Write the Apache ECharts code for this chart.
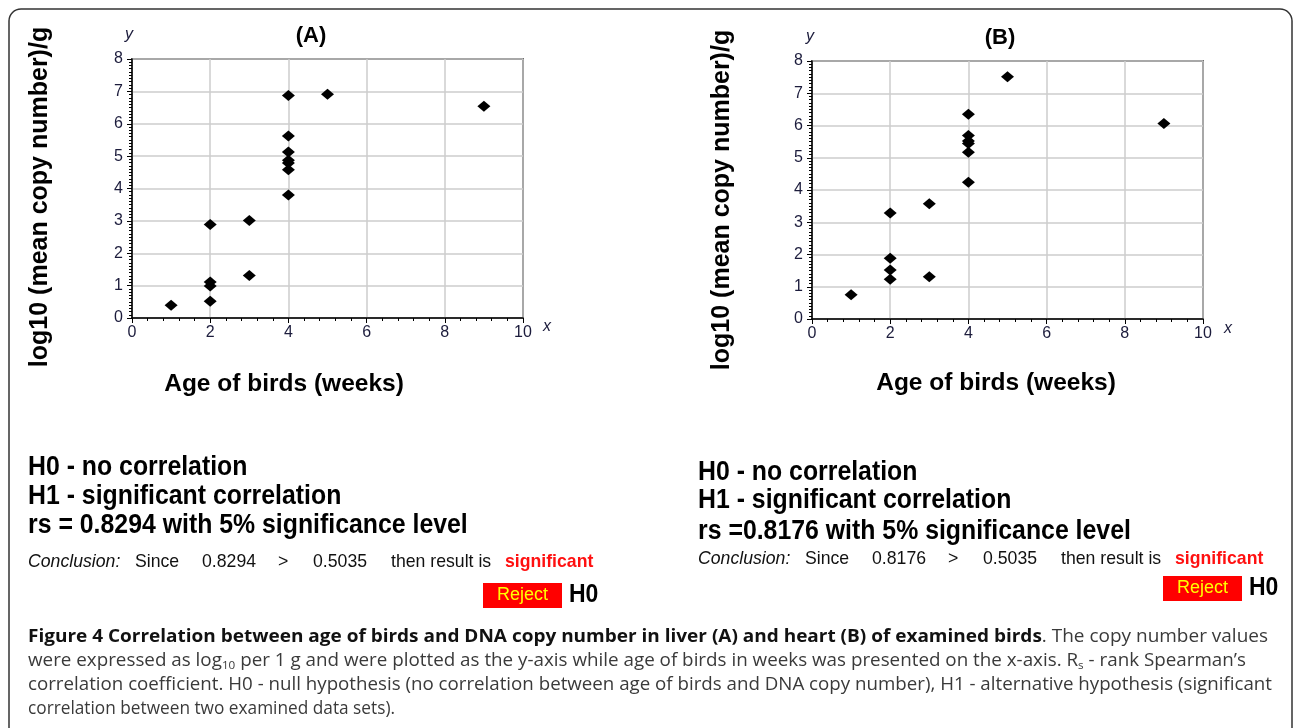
<!DOCTYPE html>
<html><head><meta charset="utf-8">
<script src="https://cdn.jsdelivr.net/npm/echarts@6/dist/echarts.min.js"></script>
<style>html,body{margin:0;padding:0;background:#fff}#c{width:1295px;height:728px}</style>
</head><body><div id="c"></div>
<script>
// ---- data ----
const ageA = [1, 2, 2, 2, 2, 3, 3, 4, 4, 4, 4, 4, 4, 4, 5, 9];
const copyA = [0.39, 0.52, 0.99, 1.11, 2.89, 1.31, 3.01, 3.80, 4.58, 4.79, 4.87, 5.13, 5.62, 6.87, 6.91, 6.54];
const ageB = [1, 2, 2, 2, 2, 3, 3, 4, 4, 4, 4, 4, 4, 5, 9];
const copyB = [0.75, 1.23, 1.52, 1.88, 3.29, 1.31, 3.57, 4.24, 5.17, 5.44, 5.52, 5.69, 6.35, 7.51, 6.06];
const xTicks = [0, 2, 4, 6, 8, 10];
const yTicks = [0, 1, 2, 3, 4, 5, 6, 7, 8];
const panelTitles = ['(A)', '(B)'];
const rsLabels = ['rs = 0.8294 with 5% significance level', 'rs =0.8176 with 5% significance level'];
const rsValues = ['0.8294', '0.8176'];
const criticalValue = '0.5035';
const yName = 'log10 (mean copy number)/g';
const xName = 'Age of birds (weeks)';

const FONT = '"Liberation Sans", Arial, sans-serif';
const TICKCOL = '#1c1c3c';

function xAx(gi) {
  return {
    gridIndex: gi, type: 'value',
    min: xTicks[0], max: xTicks[xTicks.length - 1], interval: xTicks[1] - xTicks[0],
    axisLine: {show: true, onZero: false, lineStyle: {color: '#000', width: 1.5}},
    axisTick: {show: true, length: 5, lineStyle: {color: '#000', width: 1}},
    minorTick: {show: true, splitNumber: 5, length: 3, lineStyle: {color: '#000', width: 1}},
    splitLine: {show: true, lineStyle: {color: '#cdcdcd', width: 1.5}},
    axisLabel: {color: TICKCOL, fontSize: 16, fontFamily: FONT, margin: 7}
  };
}
function yAx(gi) {
  return {
    gridIndex: gi, type: 'value',
    min: yTicks[0], max: yTicks[yTicks.length - 1], interval: yTicks[1] - yTicks[0],
    axisLine: {show: true, onZero: false, lineStyle: {color: '#000', width: 1.5}},
    axisTick: {show: true, length: 5, lineStyle: {color: '#000', width: 1}},
    minorTick: {show: true, splitNumber: 10, length: 3, lineStyle: {color: '#000', width: 1}},
    splitLine: {show: true, lineStyle: {color: '#cdcdcd', width: 1.5}},
    axisLabel: {color: TICKCOL, fontSize: 16, fontFamily: FONT, margin: 9}
  };
}

function T(x, y, text, o) {
  o = o || {};
  return {
    type: 'text', x: x, y: y, rotation: o.rot || 0, scaleX: o.sx || 1, z: 100,
    style: {
      text: text, fill: o.color || '#000',
      font: (o.style || 'normal') + ' ' + (o.weight || 'normal') + ' ' + (o.size || 16) + 'px ' + (o.family || FONT),
      align: o.align || 'left', verticalAlign: 'middle', rich: o.rich
    }
  };
}

const ctx = document.createElement('canvas').getContext('2d');
function mw(text, font) { ctx.font = font; return ctx.measureText(text).width; }

const CFAM = '"Open Sans", sans-serif';
const CFS = 18.5;
const cReg = CFS + 'px ' + CFAM, cBold = 'bold ' + CFS + 'px ' + CFAM, cSub = '11.5px ' + CFAM;

const cap1b = 'Figure 4 Correlation between age of birds and DNA copy number in liver (A) and heart (B) of examined birds';
const cap1r = '. The copy number values';
const cap2 = ['were expressed as log', '10', ' per 1 g and were plotted as the y-axis while age of birds in weeks was presented on the x-axis. R', 's', ' - rank Spearman\u2019s'];
const cap3 = 'correlation coefficient. H0 - null hypothesis (no correlation between age of birds and DNA copy number), H1 - alternative hypothesis (significant';
const cap4 = 'correlation between two examined data sets).';

const w1 = mw(cap1b, cBold) + mw(cap1r, cReg);
const w2 = mw(cap2[0], cReg) + mw(cap2[1], cSub) + mw(cap2[2], cReg) + mw(cap2[3], cSub) + mw(cap2[4], cReg);
const w3 = mw(cap3, cReg);
const w4 = mw(cap4, cReg);
const richC = {
  b: {font: cBold, fill: '#111', lineHeight: 22},
  r: {font: cReg, fill: '#3a3a3a', lineHeight: 22},
  s: {font: cSub, fill: '#3a3a3a', verticalAlign: 'bottom', lineHeight: 13}
};

const graphic = [
  {type: 'rect', shape: {x: 9, y: 9, width: 1283, height: 760, r: 12}, style: {fill: 'none', stroke: '#333', lineWidth: 1.5}, z: 1},
  // panel A
  T(311, 36, panelTitles[0], {weight: 'bold', size: 22, align: 'center'}),
  T(129, 35, 'y', {style: 'italic', size: 16, color: TICKCOL, align: 'center'}),
  T(547, 327, 'x', {style: 'italic', size: 16, color: TICKCOL, align: 'center'}),
  T(40, 197, yName, {weight: 'bold', size: 25, align: 'center', rot: Math.PI / 2}),
  T(284, 384, xName, {weight: 'bold', size: 24.5, align: 'center'}),
  // panel B
  T(1000, 38, panelTitles[1], {weight: 'bold', size: 22, align: 'center'}),
  T(810, 37, 'y', {style: 'italic', size: 16, color: TICKCOL, align: 'center'}),
  T(1228, 329, 'x', {style: 'italic', size: 16, color: TICKCOL, align: 'center'}),
  T(722, 200, yName, {weight: 'bold', size: 25, align: 'center', rot: Math.PI / 2}),
  T(996, 383, xName, {weight: 'bold', size: 24.5, align: 'center'}),
];

function statsBlock(x0, yH0, yH1, yRs, yC, rs, rsLabel, box) {
  graphic.push(T(x0, yH0, 'H0 - no correlation', {weight: 'bold', size: 27, sx: 0.92}));
  graphic.push(T(x0, yH1, 'H1 - significant correlation', {weight: 'bold', size: 27, sx: 0.92}));
  graphic.push(T(x0, yRs, rsLabel, {weight: 'bold', size: 27, sx: 0.92}));
  const offs = [0, 107, 174, 250, 285, 363, 477];
  const parts = [['Conclusion:', 'italic', 'normal', '#111'], ['Since', 'normal', 'normal', '#111'], [rs, 'normal', 'normal', '#111'], ['>', 'normal', 'normal', '#111'], [criticalValue, 'normal', 'normal', '#111'], ['then result is', 'normal', 'normal', '#111'], ['significant', 'normal', 'bold', '#ff1010']];
  parts.forEach((p, i) => graphic.push(T(x0 + offs[i], yC, p[0], {style: p[1], weight: p[2], color: p[3], size: 19, sx: 0.93})));
  graphic.push({type: 'rect', shape: {x: box[0], y: box[1], width: 79, height: 25}, style: {fill: '#ff0000'}, z: 99});
  graphic.push(T(box[0] + 39.5, box[1] + 12.5, 'Reject', {size: 18, color: '#ffff00', align: 'center'}));
  graphic.push(T(box[0] + 86, box[1] + 12.5, 'H0', {size: 25, weight: 'bold', sx: 0.92}));
}
statsBlock(28, 468, 497, 526, 562, rsValues[0], rsLabels[0], [483, 583]);
statsBlock(698, 473, 501, 532, 559, rsValues[1], rsLabels[1], [1163, 576]);

// caption
graphic.push({type: 'text', x: 28, y: 637, scaleX: 1240 / w1, z: 100,
  style: {text: '{b|' + cap1b + '}{r|' + cap1r + '}', rich: richC, verticalAlign: 'middle', align: 'left', font: cReg}});
graphic.push({type: 'text', x: 28, y: 661, scaleX: 1218 / w2, z: 100,
  style: {text: '{r|' + cap2[0] + '}{s|' + cap2[1] + '}{r|' + cap2[2] + '}{s|' + cap2[3] + '}{r|' + cap2[4] + '}', rich: richC, verticalAlign: 'middle', align: 'left', font: cReg}});
graphic.push({type: 'text', x: 28, y: 685, scaleX: 1244 / w3, z: 100,
  style: {text: '{r|' + cap3 + '}', rich: richC, verticalAlign: 'middle', align: 'left', font: cReg}});
graphic.push({type: 'text', x: 28, y: 709, scaleX: 367 / w4, z: 100,
  style: {text: '{r|' + cap4 + '}', rich: richC, verticalAlign: 'middle', align: 'left', font: cReg}});

const option = {
  animation: false,
  backgroundColor: '#fff',
  grid: [
    {left: 132, top: 59, width: 391, height: 259, show: true, borderColor: '#000', borderWidth: 1.5, containLabel: false},
    {left: 812, top: 61, width: 391, height: 258, show: true, borderColor: '#000', borderWidth: 1.5, containLabel: false}
  ],
  xAxis: [xAx(0), xAx(1)],
  yAxis: [yAx(0), yAx(1)],
  series: [
    {type: 'scatter', xAxisIndex: 0, yAxisIndex: 0, symbol: 'diamond', symbolSize: [13, 11],
     itemStyle: {color: '#000', opacity: 1}, data: ageA.map((a, i) => [a, copyA[i]])},
    {type: 'scatter', xAxisIndex: 1, yAxisIndex: 1, symbol: 'diamond', symbolSize: [13, 11],
     itemStyle: {color: '#000', opacity: 1}, data: ageB.map((a, i) => [a, copyB[i]])}
  ],
  graphic: graphic
};
const chart = echarts.init(document.getElementById('c'), null, {renderer: 'canvas'});
chart.setOption(option);
</script></body></html>
